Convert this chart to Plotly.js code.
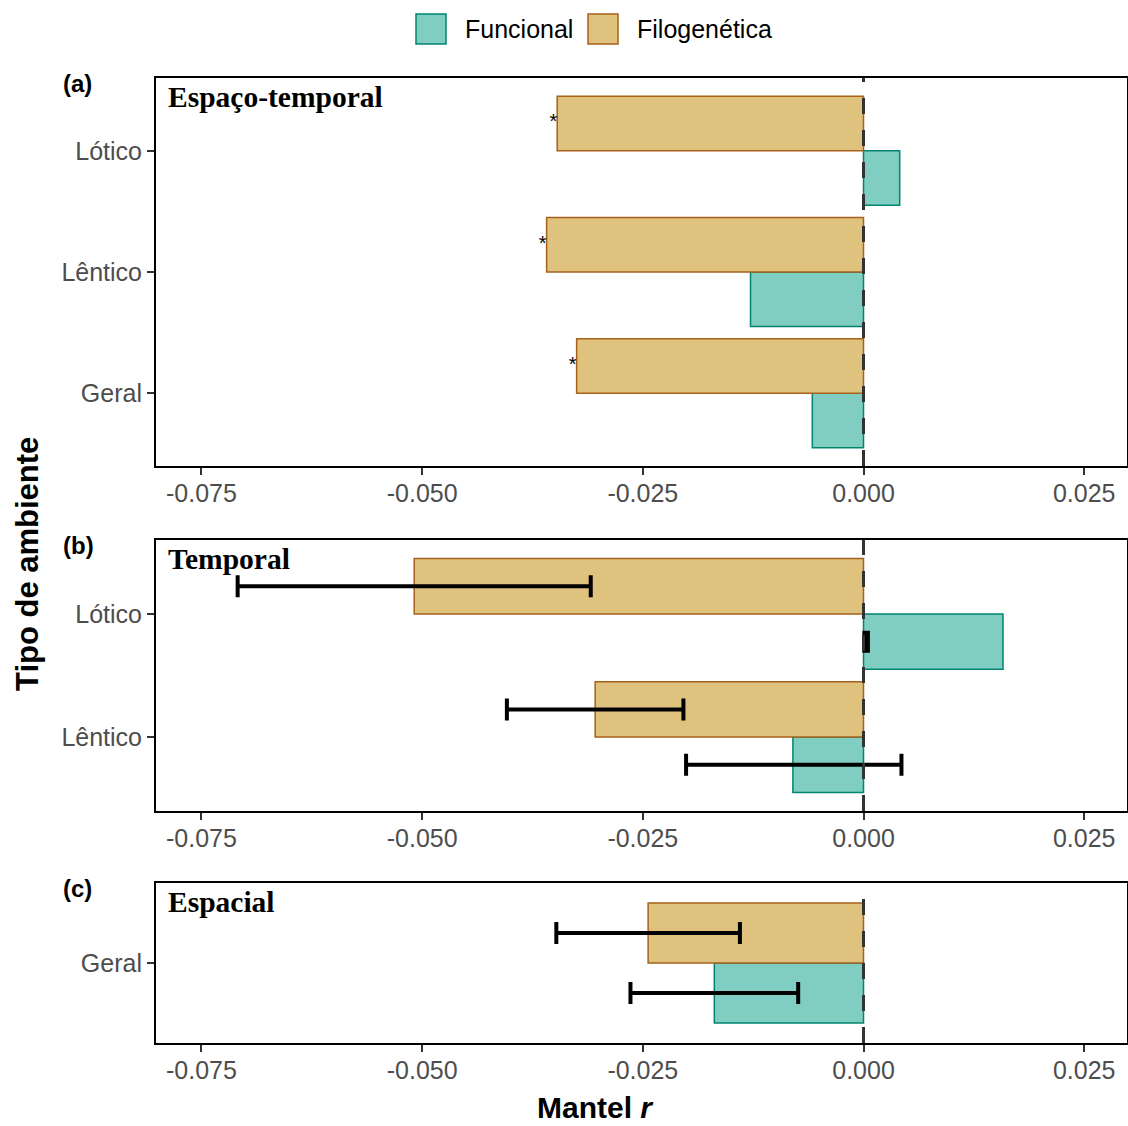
<!DOCTYPE html>
<html>
<head>
<meta charset="utf-8">
<script src="https://cdn.plot.ly/plotly-3.0.1.min.js"></script>
<style>html,body{margin:0;padding:0;background:#fff;}#chart{width:1128px;height:1126px;}</style>
</head>
<body>
<div id="chart"></div>
<script>
// ---------- DATA ----------
// categories listed bottom -> top within each panel
const catsA = ['Geral', 'Lêntico', 'Lótico'];
const funcA = [-0.0058, -0.0128, 0.0041];
const filoA = [-0.0325, -0.0359, -0.0347];
const sigFiloA = ['*', '*', '*'];

const catsB = ['Lêntico', 'Lótico'];
const funcB = [-0.0080, 0.0158];
const filoB = [-0.0304, -0.0509];
const funcErrCenterB = [-0.0079, 0.0003];
const funcErrHalfB = [0.0122, 0.0002];
const filoErrCenterB = [-0.0304, -0.0509];
const filoErrHalfB = [0.0100, 0.0200];

const catsC = ['Geral'];
const funcC = [-0.0169];
const filoC = [-0.0244];
const funcErrCenterC = [-0.0169];
const funcErrHalfC = [0.0095];
const filoErrCenterC = [-0.0244];
const filoErrHalfC = [0.0104];

const seriesNames = ['Funcional', 'Filogenética'];
const panelTitles = ['Espaço-temporal', 'Temporal', 'Espacial'];
const panelTags = ['(a)', '(b)', '(c)'];
const xTickVals = [-0.075, -0.05, -0.025, 0, 0.025];
const xTickText = ['-0.075', '-0.050', '-0.025', '0.000', '0.025'];

// ---------- STYLE ----------
const FUNC_FILL = '#80CDC1', FUNC_LINE = '#018571';
const FILO_FILL = '#DFC27D', FILO_LINE = '#A6611A';
const SANS = 'Liberation Sans, Arial, sans-serif';
const SERIF = 'Liberation Serif, Times New Roman, serif';
const W = 1128, H = 1126;
const M = {l: 156, r: 1, t: 78, b: 83};
const PW = W - M.l - M.r, PH = H - M.t - M.b;
const px2x = p => (p - M.l) / PW;
const px2y = p => (H - M.b - p) / PH;

const idx = arr => arr.map((_, i) => i);
const BW = 0.45;

function panelTraces(cats, func, filo, sfx, err) {
  const ys = idx(cats);
  const t = [];
  t.push({type: 'bar', orientation: 'h', x: func, y: ys, width: BW, offset: -BW,
    marker: {color: FUNC_FILL, line: {color: FUNC_LINE, width: 1.5}},
    name: seriesNames[0], showlegend: false, xaxis: 'x' + sfx, yaxis: 'y' + sfx, hoverinfo: 'x'});
  t.push({type: 'bar', orientation: 'h', x: filo, y: ys, width: BW, offset: 0,
    marker: {color: FILO_FILL, line: {color: FILO_LINE, width: 1.5}},
    name: seriesNames[1], showlegend: false, xaxis: 'x' + sfx, yaxis: 'y' + sfx, hoverinfo: 'x'});
  if (err) {
    [[err.filoC, err.filoH, BW / 2], [err.funcC, err.funcH, -BW / 2]].forEach(([c, h, off]) => {
      t.push({type: 'scatter', mode: 'markers', x: c, y: ys.map(v => v + off),
        marker: {size: 1, color: 'rgba(0,0,0,0)'},
        error_x: {type: 'data', array: h, symmetric: true, color: '#000000', thickness: 4, width: 11},
        showlegend: false, xaxis: 'x' + sfx, yaxis: 'y' + sfx, hoverinfo: 'skip'});
    });
  }
  return t;
}

const traces = [].concat(
  panelTraces(catsA, funcA, filoA, '', null),
  panelTraces(catsB, funcB, filoB, '2', {funcC: funcErrCenterB, funcH: funcErrHalfB, filoC: filoErrCenterB, filoH: filoErrHalfB}),
  panelTraces(catsC, funcC, filoC, '3', {funcC: funcErrCenterC, funcH: funcErrHalfC, filoC: filoErrCenterC, filoH: filoErrHalfC})
);
// significance asterisks (panel a)
traces.push({type: 'scatter', mode: 'text', x: filoA, y: idx(catsA).map(v => v + BW / 2),
  text: sigFiloA, textposition: 'middle left', textfont: {family: SANS, size: 20, color: '#000'},
  showlegend: false, hoverinfo: 'skip', xaxis: 'x', yaxis: 'y'});

const xRange = [-0.08015, 0.02985];
function xAxis(anchor) {
  return {anchor: anchor, range: xRange, tickvals: xTickVals, ticktext: xTickText,
    showgrid: false, zeroline: false, showline: true, mirror: true, linecolor: '#000', linewidth: 2,
    ticks: 'outside', ticklen: 7, tickwidth: 2, tickcolor: '#333333', ticklabelstandoff: -3,
    tickfont: {family: SANS, size: 25, color: '#4d4d4d'}, fixedrange: true};
}
function yAxis(anchor, cats, dom) {
  return {anchor: anchor, domain: dom, range: [-0.6, cats.length - 0.4], tickvals: idx(cats), ticktext: cats,
    showgrid: false, zeroline: false, showline: true, mirror: true, linecolor: '#000', linewidth: 2,
    ticks: 'outside', ticklen: 7, tickwidth: 2, tickcolor: '#333333',
    tickfont: {family: SANS, size: 25, color: '#4d4d4d'}, fixedrange: true};
}

const domA = [px2y(466), 1], domB = [px2y(811), px2y(540)], domC = [0, px2y(883)];

const shapes = [];
['', '2', '3'].forEach(s => {
  shapes.push({type: 'line', xref: 'x' + s, yref: 'y' + s + ' domain', x0: 0, x1: 0, y0: 0, y1: 1,
    line: {color: '#333333', width: 3, dash: '16px,16px'}, layer: 'above'});
});
// legend keys
shapes.push({type: 'rect', xref: 'paper', yref: 'paper', x0: px2x(416), x1: px2x(446), y0: px2y(44), y1: px2y(14),
  fillcolor: FUNC_FILL, line: {color: FUNC_LINE, width: 1.5}});
shapes.push({type: 'rect', xref: 'paper', yref: 'paper', x0: px2x(588), x1: px2x(618), y0: px2y(44), y1: px2y(14),
  fillcolor: FILO_FILL, line: {color: FILO_LINE, width: 1.5}});

const annotations = [];
const yrefs = ['y', 'y2', 'y3'], xrefs = ['x', 'x2', 'x3'];
panelTitles.forEach((t, i) => {
  annotations.push({xref: xrefs[i] + ' domain', yref: yrefs[i] + ' domain', x: 0, y: 1, xanchor: 'left', yanchor: 'top',
    xshift: 10, yshift: -1, text: '<b>' + t + '</b>', showarrow: false, font: {family: SERIF, size: 29.5, color: '#000'}});
  annotations.push({xref: xrefs[i] + ' domain', yref: yrefs[i] + ' domain', x: 0, y: 1, xanchor: 'left', yanchor: 'middle',
    xshift: -95, yshift: -5, text: '<b>' + panelTags[i] + '</b>', showarrow: false, font: {family: SANS, size: 24, color: '#000'}});
});
annotations.push({xref: 'paper', yref: 'paper', x: px2x(27), y: px2y(564), xanchor: 'center', yanchor: 'middle',
  textangle: -90, text: '<b>Tipo de ambiente</b>', showarrow: false, font: {family: SANS, size: 31, color: '#000'}});
annotations.push({xref: 'paper', yref: 'paper', x: px2x(595), y: px2y(1107), xanchor: 'center', yanchor: 'middle',
  text: '<b>Mantel <i>r</i></b>', showarrow: false, font: {family: SANS, size: 30, color: '#000'}});
annotations.push({xref: 'paper', yref: 'paper', x: px2x(463), y: px2y(29), xanchor: 'left', yanchor: 'middle',
  text: seriesNames[0], showarrow: false, font: {family: SANS, size: 25, color: '#000'}});
annotations.push({xref: 'paper', yref: 'paper', x: px2x(635), y: px2y(29), xanchor: 'left', yanchor: 'middle',
  text: seriesNames[1], showarrow: false, font: {family: SANS, size: 25, color: '#000'}});

const layout = {
  width: W, height: H, margin: M, paper_bgcolor: '#fff', plot_bgcolor: '#fff',
  barmode: 'overlay', showlegend: false,
  xaxis: xAxis('y'), yaxis: yAxis('x', catsA, domA),
  xaxis2: xAxis('y2'), yaxis2: yAxis('x2', catsB, domB),
  xaxis3: xAxis('y3'), yaxis3: yAxis('x3', catsC, domC),
  shapes: shapes, annotations: annotations
};

Plotly.newPlot('chart', traces, layout, {displayModeBar: false, staticPlot: true});
</script>
</body>
</html>
